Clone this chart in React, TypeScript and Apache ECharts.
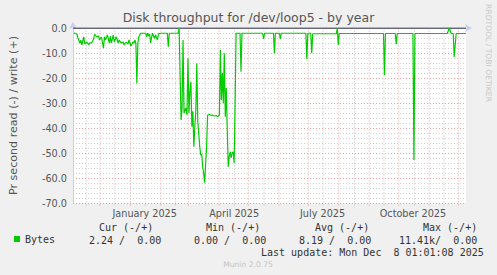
import React, { useEffect, useRef } from 'react';
import * as echarts from 'echarts';

// x = days since 2024-11-04 (start of the 400-day window), y = read bytes/s (negative = read)
const days = [
  1, 2, 4, 5, 7, 8, 9, 11, 12, 14, 16, 17, 19, 21, 22, 24, 26, 27, 29, 31, 32, 33, 35, 37, 38, 39,
  41, 42, 44, 46, 47, 49, 51, 52, 54, 56, 57, 59, 61, 62, 63, 64, 65, 66, 67, 69, 74, 75, 76, 77,
  78, 79, 80, 81, 83, 84, 86, 87, 89, 96, 97, 98, 107, 108, 110, 111, 112, 113, 115, 116, 117, 118,
  119, 120, 121, 122, 123, 124, 125, 126, 127, 129, 130, 131, 132, 133, 134, 135, 136, 137, 139, 141,
  142, 144, 146, 147, 149, 150, 151, 152, 153, 154, 155, 156, 157, 158, 159, 160, 161, 162, 163, 164,
  165, 166, 170, 171, 172, 193, 194, 195, 204, 205, 206, 210, 211, 212, 237, 238, 239, 242, 243, 244,
  268, 269, 270, 271, 316, 317, 318, 328, 329, 330, 346, 347, 348, 381, 383, 385, 387, 388, 390, 400,
];
const reads = [
  -1.9, -2.2, -2.4, -4.0, -6.0, -4.8, -6.8, -3.6, -6.4, -5.6, -6.8, -5.9, -6.0, -4.4, -2.5, -3.5, -3.2, -4.8, -3.6, -8.1, -3.5, -4.8, -2.8, -6.0, -3.2, -6.0,
  -2.8, -5.6, -3.5, -6.0, -4.8, -6.0, -5.6, -6.8, -5.7, -6.4, -4.8, -7.2, -5.6, -6.0, -4.8, -6.4, -22.1, -6.0, -3.5, -2.1, -2.1, -3.5, -2.1, -3.2,
  -2.4, -6.0, -3.7, -2.1, -4.2, -2.8, -4.8, -2.3, -2.1, -2.1, -7.5, -2.1, -2.1, 0, -36.8, -32.0, -4.8, -34.0, -32.0, -34.8, -12.1, -34.0,
  -25.5, -21.5, -39.5, -33.3, -47.5, -39.5, -33.3, -14.1, -37.3, -47.5, -50.8, -50.5, -55.5, -58.2, -61.9, -54.1, -47.5, -34.8, -34.6, -35.0,
  -34.8, -35.2, -35.0, -35.5, -34.8, -8.8, -28.8, -18.0, -30.0, -10.1, -35.5, -24.0, -40.8, -55.5, -51.5, -49.5, -52.0, -50.0, -49.5, -54.0,
  -30.0, -2.1, -2.1, -17.5, -2.1, -2.1, -4.4, -2.1, -2.1, -10.1, -2.1, -2.1, -4.4, -2.1, -2.1, -12.4, -2.1, -2.1, -10.1, -2.3,
  -2.3, 0, -6.8, -2.2, -2.2, -18.8, -2.2, -2.2, -6.5, -2.2, -2.2, -52.8, -2.2, -2.2, 0, -2.2, -2.2, -11.6, -2.2, -2.2,
];

const monthStartDays = [27, 58, 89, 117, 148, 178, 209, 239, 270, 301, 331, 362, 392];
const midMonthDays = [13, 42, 73, 104, 134, 164, 194, 224, 254, 286, 316, 347, 377];
const labelDays = [73, 164, 254, 346];
const labelNames = ['January 2025', 'April 2025', 'July 2025', 'October 2025'];
const zeroLine = [[0, 0], [400, 0]];
const Y_MIN = -70;
const Y_MAX = 0;
const TICK_BELOW = 1; // grid lines reach a little below the axis, like rrdtool's ticks
const PIXEL_ALIGN = 0.5; // half a day = half a pixel, keeps the 1px dotted grid lines crisp

const seriesName = 'Bytes';
const statHeaders = ['Cur (-/+)', 'Min (-/+)', 'Avg (-/+)', 'Max (-/+)'];
const statValues = ['2.24 /  0.00', '0.00 /  0.00', '8.19 /  0.00', '11.41k/  0.00'];
const lastUpdate = 'Last update: Mon Dec  8 01:01:08 2025';
const titleText = 'Disk throughput for /dev/loop5 - by year';
const yName = 'Pr second read (-) / write (+)';

const headerX = [99, 206, 315, 423];
const valueX = [89, 194, 299, 399];

const MONO = '"DejaVu Sans Mono", monospace';
const SANS = '"DejaVu Sans", sans-serif';
const MONO_SIZE = 10;
const CHAR_W = MONO_SIZE * 0.602;

// Monospace text: split on runs of 2+ spaces so that the column spacing survives SVG whitespace collapsing
function monoText(str: string, x: number, y: number): any[] {
  const out: any[] = [];
  const re = /\S+(?: \S+)*/g;
  let m: RegExpExecArray | null;
  while ((m = re.exec(str)) !== null) {
    out.push({
      type: 'text', x: x + m.index * CHAR_W, y,
      style: { text: m[0], fontFamily: MONO, fontSize: MONO_SIZE, fill: '#333', verticalAlign: 'middle' },
    });
  }
  return out;
}

function vGridSeries(name: string, values: number[], color: string, z: number) {
  const data: any[] = [];
  values.forEach((v) => {
    const x = v + PIXEL_ALIGN;
    data.push([x, Y_MIN - TICK_BELOW], [x, Y_MAX], [x, null]);
  });
  return {
    type: 'line',
    name,
    silent: true,
    z,
    clip: false,
    connectNulls: false,
    showSymbol: false,
    symbol: 'none',
    data,
    lineStyle: { color, width: 1, type: [1, 2] },
  };
}

export default function App() {
  const ref = useRef<HTMLDivElement>(null);
  useEffect(() => {
    const chart = echarts.init(ref.current!, null, { renderer: 'svg' });

    const graphic: any[] = [];
    statHeaders.forEach((t, i) => graphic.push(...monoText(t, headerX[i], 227)));
    statValues.forEach((t, i) => graphic.push(...monoText(t, valueX[i], 240)));
    graphic.push(...monoText(lastUpdate, 261, 252));
    graphic.push({
      type: 'text', x: 248, y: 264,
      style: { text: 'Munin 2.0.75', fontFamily: SANS, fontSize: 7.6, fill: '#c4c4c4', align: 'center', verticalAlign: 'middle' },
    });
    graphic.push({
      type: 'text', x: 488, y: 53, rotation: -Math.PI / 2,
      style: { text: 'RRDTOOL / TOBI OETIKER', fontFamily: SANS, fontSize: 7.6, fill: '#c8c8c8', align: 'center', verticalAlign: 'middle' },
    });

    chart.setOption({
      animation: false,
      backgroundColor: '#f0f0f0',
      textStyle: { fontFamily: SANS },
      title: {
        text: titleText,
        left: 'center',
        top: 11,
        padding: 0,
        textStyle: { fontFamily: SANS, fontSize: 12.5, fontWeight: 'normal', color: '#555' },
      },
      legend: {
        data: [{ name: seriesName, icon: 'rect' }],
        left: 14,
        top: 234,
        padding: 0,
        itemWidth: 6,
        itemHeight: 6,
        textStyle: { fontFamily: MONO, fontSize: MONO_SIZE, color: '#333' },
      },
      grid: {
        left: 66, top: 28, width: 400, height: 175,
        show: true, backgroundColor: '#ffffff', borderWidth: 0,
      },
      xAxis: [
        {
          type: 'value', min: 0, max: 400,
          axisLine: {
            show: true, lineStyle: { color: '#c8cdf5', width: 1 },
            symbol: ['none', 'arrow'], symbolSize: [6, 7], symbolOffset: [0, 6],
          },
          axisTick: { show: false },
          axisLabel: { show: false },
          splitLine: { show: false },
        },
        {
          type: 'value', min: 0, max: 400, position: 'bottom',
          axisLine: { show: false },
          axisTick: { show: false },
          splitLine: { show: false },
          axisLabel: {
            show: true, customValues: labelDays, margin: 5,
            fontFamily: SANS, fontSize: 9.7, color: '#555',
            formatter: (v: number) => labelNames[labelDays.indexOf(Math.round(v))] ?? '',
          },
        },
      ],
      yAxis: {
        type: 'value', min: Y_MIN, max: Y_MAX, interval: 10,
        name: yName, nameLocation: 'middle', nameRotate: 90, nameGap: 54,
        nameTextStyle: { fontFamily: SANS, fontSize: 11.1, color: '#555' },
        axisLine: {
          show: true, lineStyle: { color: '#c8cdf5', width: 1 },
          symbol: ['none', 'arrow'], symbolSize: [6, 7], symbolOffset: [0, 6],
        },
        axisTick: { show: false },
        axisLabel: {
          margin: 6, fontFamily: SANS, fontSize: 9.7, color: '#555',
          formatter: (v: number) => v.toFixed(1),
        },
        splitLine: { show: true, lineStyle: { color: '#e9a0a0', type: [1, 2], width: 1 } },
        minorTick: { show: false, splitNumber: 5 },
        minorSplitLine: { show: true, lineStyle: { color: '#d0d0d0', type: [1, 2], width: 1 } },
      },
      series: [
        vGridSeries('monthGrid', monthStartDays, '#e9a0a0', 2),
        vGridSeries('midMonthGrid', midMonthDays, '#bcbcbc', 2),
        {
          type: 'line', name: 'zero', data: zeroLine, z: 2, silent: true,
          showSymbol: false, symbol: 'none',
          lineStyle: { color: '#000000', width: 1 },
        },
        {
          type: 'line', name: seriesName, z: 3,
          data: days.map((d, i) => [d, reads[i]]),
          showSymbol: false, symbol: 'none',
          color: '#00cc00',
          lineStyle: { color: '#00cc00', width: 1.2 },
        },
      ],
      graphic,
    });
    return () => chart.dispose();
  }, []);
  return <div ref={ref} style={{ position: 'fixed', left: 0, top: 0, width: 497, height: 275 }} />;
}
